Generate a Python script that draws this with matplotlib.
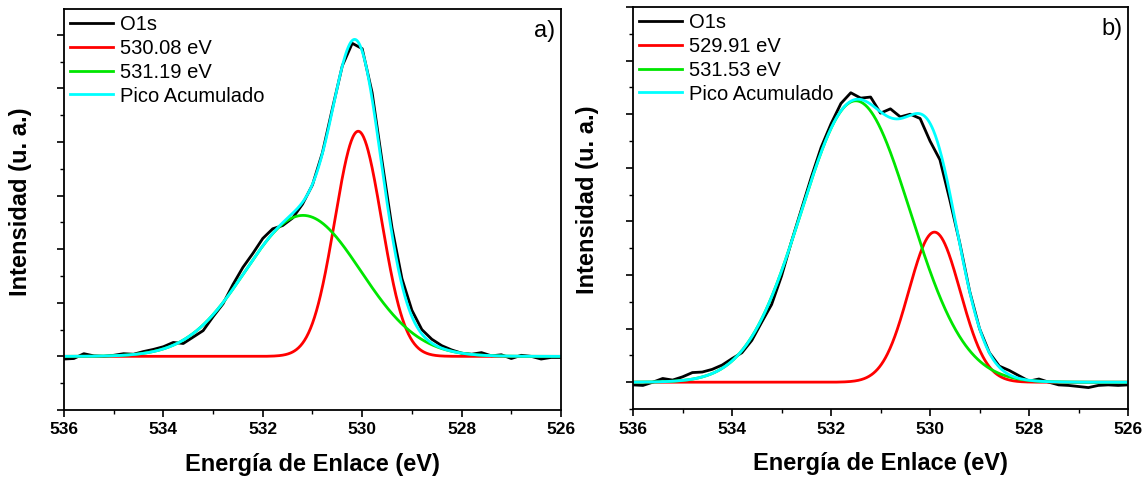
import numpy as np
import matplotlib
matplotlib.use("Agg")
import matplotlib.pyplot as plt
from matplotlib.ticker import MultipleLocator

plt.rcParams['font.family'] = ['Liberation Sans', 'DejaVu Sans']

# ---------------- data ----------------
energy = np.round(np.arange(536.0, 525.99, -0.2), 2)   # binding energy grid (eV)

# panel a) measured O1s
o1s_a = [-0.05, -0.04, 0.05, 0.01, 0.00, 0.02, 0.05, 0.04, 0.09, 0.13,
         0.18, 0.26, 0.24, 0.36, 0.48, 0.74, 0.98, 1.34, 1.66, 1.92,
         2.20, 2.38, 2.44, 2.58, 2.84, 3.20, 3.80, 4.62, 5.42, 5.84,
         5.74, 4.92, 3.64, 2.40, 1.45, 0.86, 0.50, 0.32, 0.20, 0.12,
         0.06, 0.04, 0.07, 0.01, 0.03, -0.04, 0.02, 0.00, -0.05, -0.02,
         -0.02]
# panel b) measured O1s
o1s_b = [-0.05, -0.06, 0.00, 0.07, 0.04, 0.10, 0.18, 0.19, 0.24, 0.32,
         0.44, 0.55, 0.78, 1.12, 1.45, 1.98, 2.62, 3.22, 3.82, 4.38,
         4.82, 5.20, 5.40, 5.30, 5.32, 5.02, 5.10, 4.95, 5.00, 4.92,
         4.50, 4.15, 3.40, 2.60, 1.70, 1.00, 0.55, 0.30, 0.22, 0.12,
         0.02, 0.06, 0.00, -0.05, -0.06, -0.08, -0.10, -0.06, -0.05, -0.06,
         -0.05]

# fitted Gaussian components: (centre eV, height, sigma eV)
peaks_a = {'530.08 eV': (530.08, 4.20, 0.47), '531.19 eV': (531.19, 2.63, 1.16)}
peaks_b = {'529.91 eV': (529.91, 2.80, 0.52), '531.53 eV': (531.50, 5.25, 1.10)}

xticks = [536, 534, 532, 530, 528, 526]
panel_tags = ['a)', 'b)']
ylims = [(-1.0, 6.48), (-0.5, 7.0)]

# ---------------- plotting ----------------
fig = plt.figure(figsize=(11.48, 4.79), dpi=100)
axes = [fig.add_axes([0.0557, 0.1441, 0.4330, 0.8371]),
        fig.add_axes([0.5514, 0.1461, 0.4312, 0.8393])]

xf = np.linspace(536, 526, 1001)

def gauss(x, c, h, s):
    return h * np.exp(-0.5 * ((x - c) / s) ** 2)

comp_colors = ['#FF0000', '#00E600']
lw = 2.0
for ax, o1s, peaks, tag, yl, ylx in zip(axes, [o1s_a, o1s_b], [peaks_a, peaks_b],
                                          panel_tags, ylims, [-0.0865, -0.091]):
    ax.plot(energy, o1s, color='black', lw=lw, label='O1s')
    total = np.zeros_like(xf)
    for (lab, (c, h, s)), col in zip(peaks.items(), comp_colors):
        y = gauss(xf, c, h, s)
        total += y
        ax.plot(xf, y, color=col, lw=lw, label=lab)
    ax.plot(xf, total, color='#00FFFF', lw=lw, label='Pico Acumulado')

    ax.set_xlim(536, 526)
    ax.set_ylim(*yl)
    ax.set_xticks(xticks)
    ax.set_xticklabels([str(t) for t in xticks], fontsize=12.5, fontweight='bold')
    ax.xaxis.set_minor_locator(MultipleLocator(1))
    ax.yaxis.set_major_locator(MultipleLocator(1))
    ax.yaxis.set_minor_locator(MultipleLocator(0.5))
    ax.set_yticklabels([])
    ax.tick_params(axis='both', which='major', direction='out', length=5, width=1.2,
                   pad=4)
    ax.tick_params(axis='both', which='minor', direction='out', length=3, width=1.0)
    for sp in ax.spines.values():
        sp.set_linewidth(1.3)

    ax.set_xlabel('Energía de Enlace (eV)', fontsize=17, fontweight='bold', va='center')
    ax.xaxis.set_label_coords(0.5, -0.135)
    ax.set_ylabel('Intensidad (u. a.)', fontsize=17, fontweight='bold', va='center')
    ax.yaxis.set_label_coords(ylx, 0.52)

    ax.text(0.988, 0.945, tag, transform=ax.transAxes, ha='right', va='center',
            fontsize=17)

    ax.legend(loc='upper left', frameon=False, fontsize=14.5, handlelength=2.15,
              handletextpad=0.35, labelspacing=0.24, borderpad=0.1,
              borderaxespad=0.2)

fig.savefig('out.png', dpi=100)
